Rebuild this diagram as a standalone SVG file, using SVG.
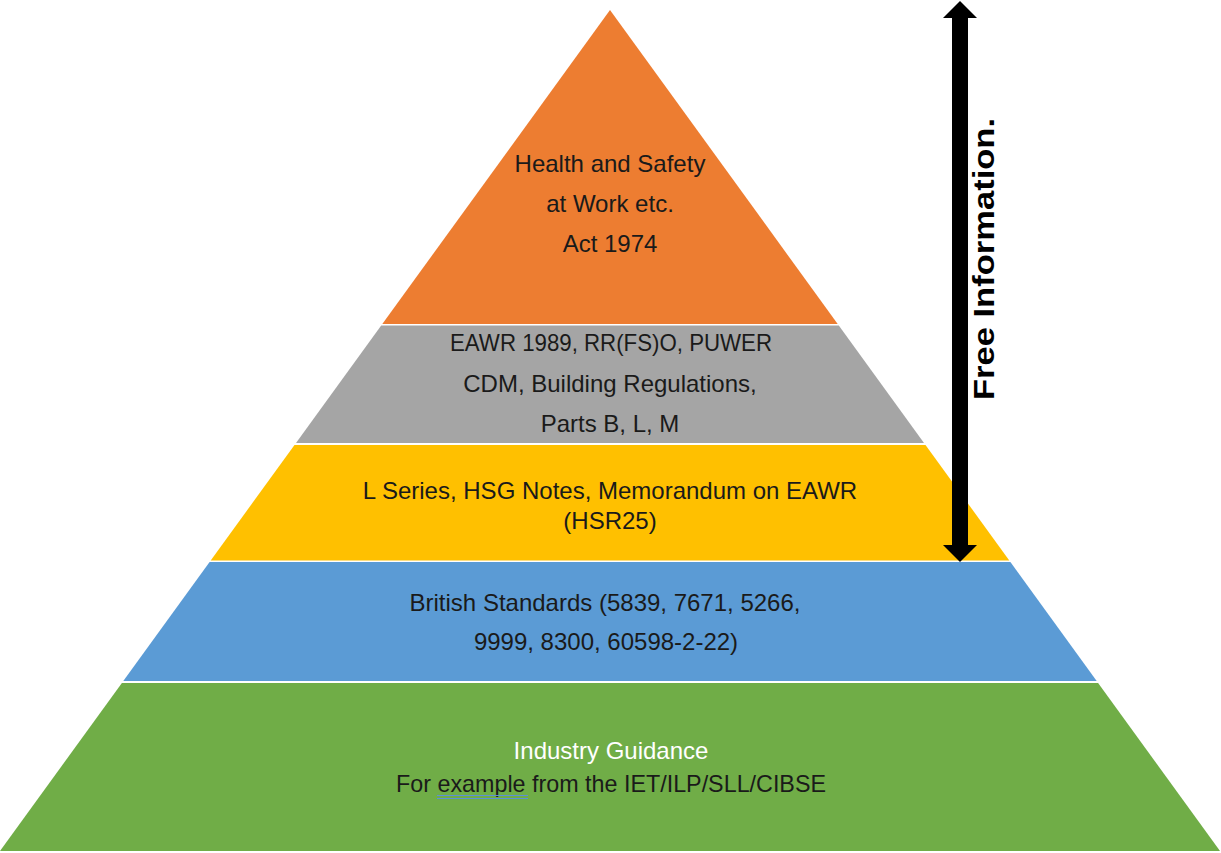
<svg xmlns="http://www.w3.org/2000/svg" width="1221" height="853" viewBox="0 0 1221 853">
  <style>
    .lbl { font-family: "Liberation Sans", Arial, sans-serif; font-size: 24px; fill: #1a1a1a; text-anchor: middle; }
    .white { fill: #ffffff; }
    .title { font-family: "Liberation Sans", Arial, sans-serif; font-size: 30px; font-weight: bold; fill: #000000; }
  </style>
  <rect width="1221" height="853" fill="#ffffff"/>
  <g id="layer-hswa">
    <polygon points="610,10 837.7,324 382.3,324" fill="#ED7D31"/>
    <text class="lbl" x="610" y="172">Health and Safety</text>
    <text class="lbl" x="610" y="212">at Work etc.</text>
    <text class="lbl" x="610" y="252">Act 1974</text>
  </g>
  <g id="layer-regulations">
    <polygon points="381.2,325.5 838.8,325.5 924,443 296,443" fill="#A5A5A5"/>
    <text class="lbl" x="611" y="351" textLength="322" lengthAdjust="spacingAndGlyphs">EAWR 1989, RR(FS)O, PUWER</text>
    <text class="lbl" x="610" y="392">CDM, Building Regulations,</text>
    <text class="lbl" x="610" y="432">Parts B, L, M</text>
  </g>
  <g id="layer-guidance-notes">
    <polygon points="294.5,445 925.5,445 1009.3,560.5 210.7,560.5" fill="#FFC000"/>
    <text class="lbl" x="610" y="499">L Series, HSG Notes, Memorandum on EAWR</text>
    <text class="lbl" x="610" y="529">(HSR25)</text>
  </g>
  <g id="layer-british-standards">
    <polygon points="209.6,562 1010.4,562 1096.7,681 123.3,681" fill="#5B9BD5"/>
    <text class="lbl" x="605" y="611">British Standards (5839, 7671, 5266,</text>
    <text class="lbl" x="606" y="650">9999, 8300, 60598-2-22)</text>
  </g>
  <g id="layer-industry-guidance">
    <polygon points="121.9,683 1098.1,683 1220,851 0,851" fill="#70AD47"/>
    <text class="lbl white" x="611" y="759">Industry Guidance</text>
    <text class="lbl" x="611" y="792" textLength="430" lengthAdjust="spacingAndGlyphs">For example from the IET/ILP/SLL/CIBSE</text>
    <line x1="437" y1="795.5" x2="528" y2="795.5" stroke="#5B8FD8" stroke-width="1.2"/>
    <line x1="437" y1="798.5" x2="528" y2="798.5" stroke="#5B8FD8" stroke-width="1.2"/>
  </g>
  <g id="connectors">
    <polygon points="960,1 977,18 968,18 968,545 977,545 960,562 943,545 952,545 952,18 943,18" fill="#000000"/>
  </g>
  <g id="label-free-information">
    <text class="title" transform="translate(994,400) rotate(-90)" x="0" y="0" textLength="282" lengthAdjust="spacingAndGlyphs">Free Information.</text>
  </g>
</svg>
